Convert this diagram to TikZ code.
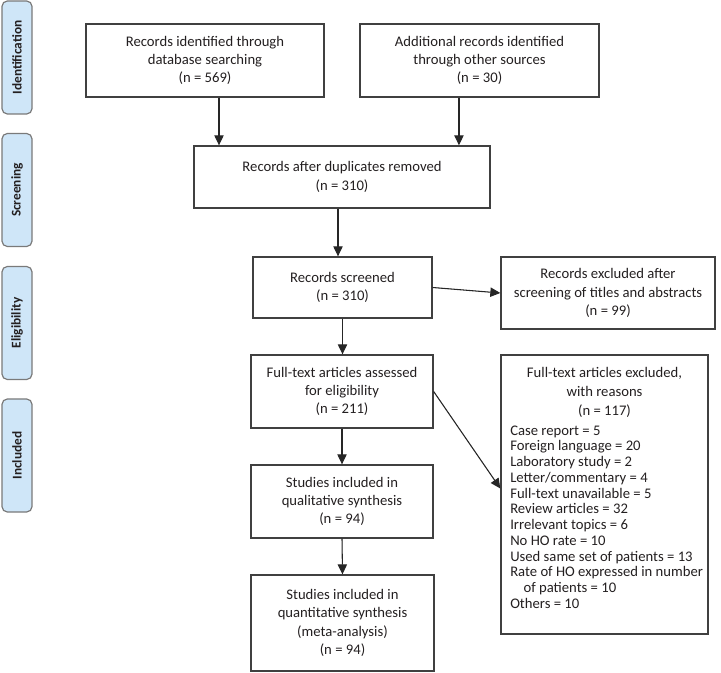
\documentclass[tikz,border=0pt]{standalone}
\usepackage{fontspec}
\setmainfont{Carlito}
\usepackage{xcolor}
\usetikzlibrary{arrows.meta, positioning}
\definecolor{boxgray}{HTML}{404040}
\definecolor{phasegray}{HTML}{7A7A7A}
\definecolor{phaseblue}{HTML}{CFE6F8}
\definecolor{textdark}{HTML}{231F20}

\begin{document}
\begin{tikzpicture}[
    x=0.75pt, y=-0.75pt,
    box/.style={rectangle, draw=boxgray, line width=1pt, text=textdark, align=center, font=\fontsize{11}{13.75}\selectfont},
    phase/.style={rectangle, rounded corners=4pt, draw=phasegray, fill=phaseblue, line width=0.9pt, rotate=90, minimum width=84.75pt, minimum height=22.5pt, text=textdark, font=\fontsize{10}{11}\selectfont\bfseries},
    arrow/.style={-{Triangle[length=7.5pt, width=7pt]}, line width=0.8pt, draw=black!85, fill=black!85}
]
\useasboundingbox (0,0) rectangle (721,673);

% Phase labels on the left
\node[phase] (identPhase) at (17,57.5) {Identification};
\node[phase] (screenPhase) at (17,190) {Screening};
\node[phase] (eligPhase) at (17,323) {Eligibility};
\node[phase] (inclPhase) at (17,455.5) {Included};

% Identification
\node[box, minimum width=178.5pt, minimum height=54.75pt] (dbRecords) at (205,60.5) {Records identified through\\database searching\\(n = 569)};
\node[box, minimum width=179.25pt, minimum height=54.75pt] (otherRecords) at (479.5,60.5) {Additional records identified\\through other sources\\(n = 30)};

% Screening
\node[box, minimum width=222pt, minimum height=46.5pt] (dedup) at (342,177) {Records after duplicates removed\\(n = 310)};
\node[box, minimum width=134.25pt, minimum height=45.75pt] (screened) at (342.5,287.5) {Records screened\\(n = 310)};
\node[box, minimum width=160.5pt, minimum height=54pt] (screenExcl) at (608,293) {Records excluded after\\screening of titles and abstracts\\(n = 99)};

% Eligibility
\node[box, minimum width=136.5pt, minimum height=54.75pt] (fullText) at (342,391.5) {Full-text articles assessed\\for eligibility\\(n = 211)};
\node[box, minimum width=155.25pt, minimum height=209.25pt] (fullExcl) at (604.5,494.5) {};
\node[text=textdark, align=center, font=\fontsize{11}{14.25}\selectfont] (fullExclHead) at (604.5,392) {Full-text articles excluded,\\with reasons\\(n = 117)};
\node[text=textdark, align=left, anchor=west, inner sep=0pt, font=\fontsize{11}{11.8}\selectfont] (fullExclList) at (510,517) {Case report = 5\\
Foreign language = 20\\
Laboratory study = 2\\
Letter/commentary = 4\\
Full-text unavailable = 5\\
Review articles = 32\\
Irrelevant topics = 6\\
No HO rate = 10\\
Used same set of patients = 13\\
Rate of HO expressed in number\\
\hspace*{10pt}of patients = 10\\
Others = 10};

% Included
\node[box, minimum width=136.5pt, minimum height=54.75pt] (qualStudies) at (342,501.5) {Studies included in\\qualitative synthesis\\(n = 94)};
\node[box, minimum width=137.25pt, minimum height=72pt] (quantStudies) at (342.5,623) {Studies included in\\quantitative synthesis\\(meta-analysis)\\(n = 94)};

% Arrows
\draw[arrow] ([xshift=10.5pt]dbRecords.south) -- ([xshift=10.5pt]dbRecords.south |- dedup.north);
\draw[arrow] ([xshift=-15.4pt]otherRecords.south) -- ([xshift=-15.4pt]otherRecords.south |- dedup.north);
\draw[arrow] ([xshift=-3pt]dedup.south) -- ([xshift=-3pt]dedup.south |- screened.north);
\draw[arrow] (screened.east) -- (screenExcl.west);
\draw[arrow] (screened.south) -- (screened.south |- fullText.north);
\draw[arrow] (fullText.east) -- ([yshift=4.5pt]fullExcl.west);
\draw[arrow] (fullText.south) -- (qualStudies.north);
\draw[arrow] (qualStudies.south) -- (quantStudies.north);

\end{tikzpicture}
\end{document}
